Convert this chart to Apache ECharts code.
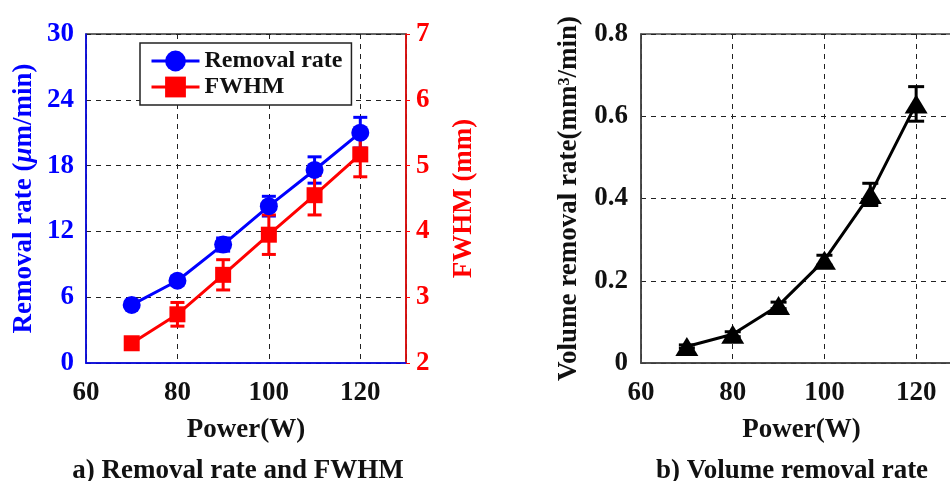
<!DOCTYPE html>
<head>
    <meta charset="utf-8">
    <title>ECharts</title>
    <script src="https://cdn.jsdelivr.net/npm/echarts@6/dist/echarts.min.js"></script>
<style type="text/css">
    body{
        margin: 0;
        background: #fff;
    }
    #main{
        width: 950px;
        height: 481px;
    }
</style>
</head>

<body>
<div id="main"></div>
</body>

<script>
    // values
    var power = [70, 80, 90, 100, 110, 120];
    var removalRate = [5.3, 7.5, 10.8, 14.3, 17.6, 21.0];
    var removalErr = [0.3, 0.4, 0.6, 0.9, 1.2, 1.4];
    var fwhm = [2.3, 2.74, 3.34, 3.95, 4.55, 5.17];
    var fwhmErr = [0.05, 0.18, 0.23, 0.3, 0.3, 0.34];
    var volumeRate = [0.04, 0.07, 0.14, 0.25, 0.41, 0.63];
    var volumeErr = [0.004, 0.006, 0.008, 0.012, 0.027, 0.042];
    var captions = ['a) Removal rate and FWHM', 'b) Volume removal rate'];

    var font = 'Liberation Serif';
    var myChart = echarts.init(document.getElementById('main'));

    function pairs(xs, ys) {
        var out = [];
        for (var i = 0; i < xs.length; i++) {
            out.push([xs[i], ys[i]]);
        }
        return out;
    }

    function errData(xs, ys, es) {
        var out = [];
        for (var i = 0; i < xs.length; i++) {
            out.push([xs[i], ys[i] - es[i], ys[i] + es[i]]);
        }
        return out;
    }

    function errorBars(color, cap) {
        return function (params, api) {
            var lo = api.coord([api.value(0), api.value(1)]);
            var hi = api.coord([api.value(0), api.value(2)]);
            var st = {stroke: color, lineWidth: 3};
            return {
                type: 'group',
                children: [
                    {type: 'line', shape: {x1: lo[0], y1: lo[1], x2: hi[0], y2: hi[1]}, style: st},
                    {type: 'line', shape: {x1: lo[0] - cap, y1: lo[1], x2: lo[0] + cap, y2: lo[1]}, style: st},
                    {type: 'line', shape: {x1: hi[0] - cap, y1: hi[1], x2: hi[0] + cap, y2: hi[1]}, style: st}
                ]
            };
        };
    }

    function xAxis(gridIndex) {
        return {
            type: 'value',
            gridIndex: gridIndex,
            min: 60,
            max: 130,
            interval: 20,
            name: 'Power(W)',
            nameLocation: 'middle',
            nameGap: 54,
            nameTextStyle: {fontFamily: font, fontWeight: 'bold', fontSize: 27, color: '#111'},
            axisLine: {lineStyle: {color: gridIndex === 0 ? '#0000ff' : '#444', width: 1.5}},
            axisTick: {show: false},
            axisLabel: {
                fontFamily: font, fontWeight: 'bold', fontSize: 27, color: '#111', margin: 17,
                formatter: function (v) { return v === 130 ? '' : v; }
            },
            splitLine: {show: true, lineStyle: {color: '#222', type: [5, 5], width: 1}}
        };
    }

    var option = {
        animation: false,
        backgroundColor: '#fff',
        title: [
            {text: captions[0], left: 233, top: 453, textAlign: 'center',
                textStyle: {fontFamily: font, fontWeight: 'bold', fontSize: 27, color: '#111'}},
            {text: captions[1], left: 787, top: 453, textAlign: 'center',
                textStyle: {fontFamily: font, fontWeight: 'bold', fontSize: 27, color: '#111'}}
        ],
        legend: {
            data: ['Removal rate', 'FWHM'],
            orient: 'vertical',
            left: 140,
            top: 43,
            padding: [6, 9, 6, 10],
            itemGap: 2,
            itemWidth: 48,
            itemHeight: 26,
            itemTextGap: 8,
            backgroundColor: '#fff',
            borderColor: '#222',
            borderWidth: 1.5,
            borderRadius: 0,
            lineStyle: {width: 3},
            textStyle: {fontFamily: font, fontWeight: 'bold', fontSize: 24, color: '#111'}
        },
        grid: [
            {left: 86, top: 34, width: 320, height: 329, show: true, borderColor: '#333', borderWidth: 1.5,
                outerBoundsMode: 'none'},
            {left: 641, top: 34, width: 321, height: 329, show: true, borderColor: '#444', borderWidth: 1.5,
                outerBoundsMode: 'none'}
        ],
        xAxis: [xAxis(0), xAxis(1)],
        yAxis: [
            {
                type: 'value', gridIndex: 0, position: 'left',
                min: 0, max: 30, interval: 6,
                name: '{t|Removal rate (}{i|μ}{t|m/min)}',
                nameLocation: 'middle', nameGap: 48,
                nameTextStyle: {
                    color: '#0000ff',
                    rich: {
                        t: {fontFamily: font, fontWeight: 'bold', fontSize: 27, color: '#0000ff'},
                        i: {fontFamily: font, fontWeight: 'bold', fontStyle: 'italic', fontSize: 27, color: '#0000ff'}
                    }
                },
                axisLine: {show: true, lineStyle: {color: '#0000ff', width: 1.5}},
                axisTick: {show: false},
                axisLabel: {fontFamily: font, fontWeight: 'bold', fontSize: 27, color: '#0000ff', margin: 12},
                splitLine: {show: true, lineStyle: {color: '#222', type: [5, 5], width: 1}}
            },
            {
                type: 'value', gridIndex: 0, position: 'right',
                min: 2, max: 7, interval: 1,
                name: 'FWHM (mm)',
                nameLocation: 'middle', nameGap: 45,
                nameTextStyle: {fontFamily: font, fontWeight: 'bold', fontSize: 27, color: '#ff0000'},
                axisLine: {show: true, lineStyle: {color: '#ff0000', width: 1.5}},
                axisTick: {show: true, length: 4, lineStyle: {color: '#ff0000'}},
                axisLabel: {fontFamily: font, fontWeight: 'bold', fontSize: 27, color: '#ff0000', margin: 10},
                splitLine: {show: false}
            },
            {
                type: 'value', gridIndex: 1,
                min: 0, max: 0.8, interval: 0.2,
                name: 'Volume removal rate(mm³/min)',
                nameLocation: 'middle', nameGap: 58,
                nameTextStyle: {fontFamily: font, fontWeight: 'bold', fontSize: 27, color: '#111'},
                axisLine: {show: true, lineStyle: {color: '#444', width: 1.5}},
                axisTick: {show: false},
                axisLabel: {fontFamily: font, fontWeight: 'bold', fontSize: 27, color: '#111', margin: 13},
                splitLine: {show: true, lineStyle: {color: '#222', type: [5, 5], width: 1}}
            }
        ],
        series: [
            {
                name: 'Removal rate', type: 'line', xAxisIndex: 0, yAxisIndex: 0,
                data: pairs(power, removalRate),
                symbol: 'circle', symbolSize: 18,
                itemStyle: {color: '#0000ff'},
                lineStyle: {color: '#0000ff', width: 3}
            },
            {
                type: 'custom', xAxisIndex: 0, yAxisIndex: 0, z: 3,
                data: errData(power, removalRate, removalErr),
                renderItem: errorBars('#0000ff', 7)
            },
            {
                name: 'FWHM', type: 'line', xAxisIndex: 0, yAxisIndex: 1,
                data: pairs(power, fwhm),
                symbol: 'rect', symbolSize: 16,
                itemStyle: {color: '#ff0000'},
                lineStyle: {color: '#ff0000', width: 3}
            },
            {
                type: 'custom', xAxisIndex: 0, yAxisIndex: 1, z: 3,
                data: errData(power, fwhm, fwhmErr),
                renderItem: errorBars('#ff0000', 7)
            },
            {
                name: 'Volume removal rate', type: 'line', xAxisIndex: 1, yAxisIndex: 2,
                data: pairs(power, volumeRate),
                symbol: 'triangle', symbolSize: [23, 19],
                itemStyle: {color: '#000'},
                lineStyle: {color: '#000', width: 3}
            },
            {
                type: 'custom', xAxisIndex: 1, yAxisIndex: 2, z: 3,
                data: errData(power, volumeRate, volumeErr),
                renderItem: errorBars('#000', 8)
            }
        ]
    };
    myChart.setOption(option);
</script>
